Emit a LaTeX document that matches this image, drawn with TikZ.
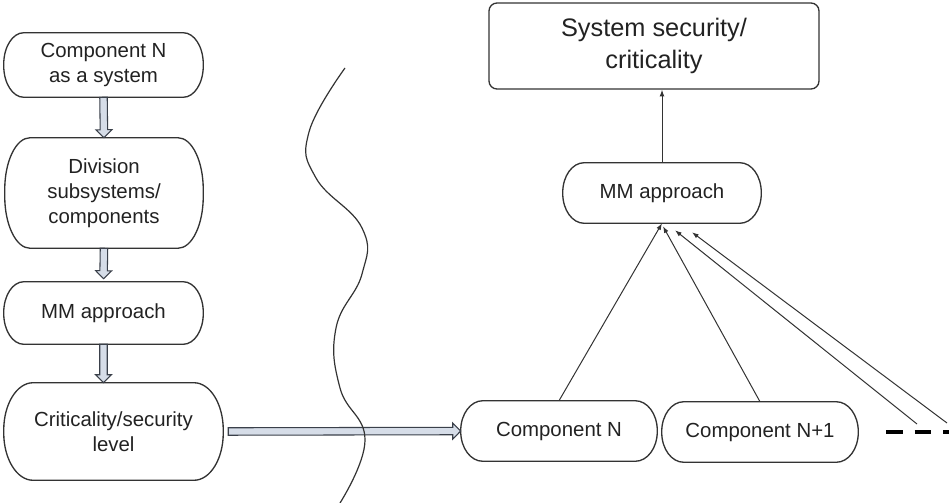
\documentclass[tikz,border=0pt]{standalone}
\usepackage{fontspec}
\setmainfont{Liberation Sans}
\usetikzlibrary{calc,arrows.meta}
\definecolor{edge}{HTML}{333333}
\definecolor{ink}{HTML}{222222}
\definecolor{arrowfill}{HTML}{D6DDE8}
\definecolor{arrowedge}{HTML}{3A404A}
\tikzset{
  pill/.style={align=center, inner sep=0pt, text=ink,
    font={\fontsize{15.3}{18.75}\selectfont}},
  pillline/.style={draw=edge, line width=1pt},
  titlebox/.style={draw=edge, line width=1pt, rounded corners=6pt, align=center,
    inner sep=0pt, text=ink, font={\fontsize{19}{24}\selectfont}},
  link/.style={draw=edge, line width=0.75pt, -{Latex[length=5pt,width=3.6pt]}},
  hollow/.style={draw=arrowedge, fill=arrowfill, line width=0.8pt, line join=miter},
  wave/.style={draw=edge, line width=0.9pt},
  ellipsis/.style={draw=black, line width=3pt, dash pattern=on 12.5pt off 9pt}
}
% outline with elliptical ends round a node: #2 horizontal radius, #3 vertical radius
\newcommand\pillframe[3]{%
  \draw[pillline] ($(#1.north west)+(#2,0pt)$) -- ($(#1.north east)+(-#2,0pt)$)
    arc[start angle=90, end angle=0, x radius=#2, y radius=#3]
    -- ($(#1.south east)+(0pt,#3)$)
    arc[start angle=0, end angle=-90, x radius=#2, y radius=#3]
    -- ($(#1.south west)+(#2,0pt)$)
    arc[start angle=270, end angle=180, x radius=#2, y radius=#3]
    -- ($(#1.north west)+(0pt,-#3)$)
    arc[start angle=180, end angle=90, x radius=#2, y radius=#3] -- cycle;
}
% block arrow between two named points: shaft half-width 2.8pt, head half-width 6pt, head length 6pt
\newcommand\blockarrow[2]{%
  \coordinate (ba-s) at (#1);
  \coordinate (ba-e) at (#2);
  \coordinate (ba-n) at ($(ba-e)!6pt!(ba-s)$);
  \draw[hollow] ($(ba-s)!2.8pt!90:(ba-e)$) -- ($(ba-n)!2.8pt!-90:(ba-s)$)
    -- ($(ba-n)!6pt!-90:(ba-s)$) -- (ba-e) -- ($(ba-n)!6pt!90:(ba-s)$)
    -- ($(ba-n)!2.8pt!90:(ba-s)$) -- ($(ba-s)!2.8pt!-90:(ba-e)$) -- cycle;
}
\begin{document}
\begin{tikzpicture}[x=0.75pt,y=-0.75pt]
\useasboundingbox (0,0) rectangle (949,503);

% left column: refinement of one component
\node[pill, minimum width={199*0.75pt}, minimum height={64*0.75pt}] (sys) at (103.5,65) {Component N\\as a system};
\node[pill, minimum width={198*0.75pt}, minimum height={110*0.75pt}] (div) at (104,193) {Division\\subsystems/\\components};
\node[pill, minimum width={199*0.75pt}, minimum height={62*0.75pt}] (mmL) at (103.5,313) {MM approach};
\node[pill, minimum width={219*0.75pt}, minimum height={97*0.75pt}] (crit) at (113.5,431.5) {Criticality/security\\level};
\pillframe{sys}{15pt}{23.5pt}
\pillframe{div}{19pt}{39pt}
\pillframe{mmL}{15pt}{23pt}
\pillframe{crit}{22pt}{35.5pt}

% right side: aggregation to system level
\node[titlebox, minimum width={330*0.75pt}, minimum height={86*0.75pt}] (top) at (654,46) {System security/\\criticality};
\node[pill, minimum width={198*0.75pt}, minimum height={60*0.75pt}] (mmR) at (662,193) {MM approach};
\node[pill, minimum width={196*0.75pt}, minimum height={60*0.75pt}] (cN) at (559,431) {Component N};
\node[pill, minimum width={196*0.75pt}, minimum height={60*0.75pt}] (cN1) at (760,432) {Component N+1};
\pillframe{mmR}{16pt}{22.3pt}
\pillframe{cN}{16.5pt}{22.3pt}
\pillframe{cN1}{16.5pt}{22.3pt}

% hollow block arrows
\blockarrow{sys.south}{div.north}
\blockarrow{div.south}{$(mmL.north)+(0,-3)$}
\blockarrow{mmL.south}{mmL.south |- crit.north}
\blockarrow{$(crit.east)+(5,0)$}{cN.west}

% separating wavy line
\draw[wave] plot[smooth, tension=0.75] coordinates
  {(345,68) (309,132) (316,178) (362,228) (362,274) (336,328) (340,388) (365,440) (340,503)};

% component contributions
\draw[link] (cN.north) -- (mmR.south);
\draw[link] (cN1.north) -- ($(mmR.south)+(1,3)$);
\coordinate (more1) at (917,424);
\coordinate (more2) at (947,423);
\draw[link] (more1) -- ($(mmR.south)+(13,7)$);
\draw[link] (more2) -- ($(mmR.south)+(30,9)$);
\draw[ellipsis] (886,432) -- (949,432);

\draw[link] (mmR.north) -- (top.south -| mmR.north);
\end{tikzpicture}
\end{document}
